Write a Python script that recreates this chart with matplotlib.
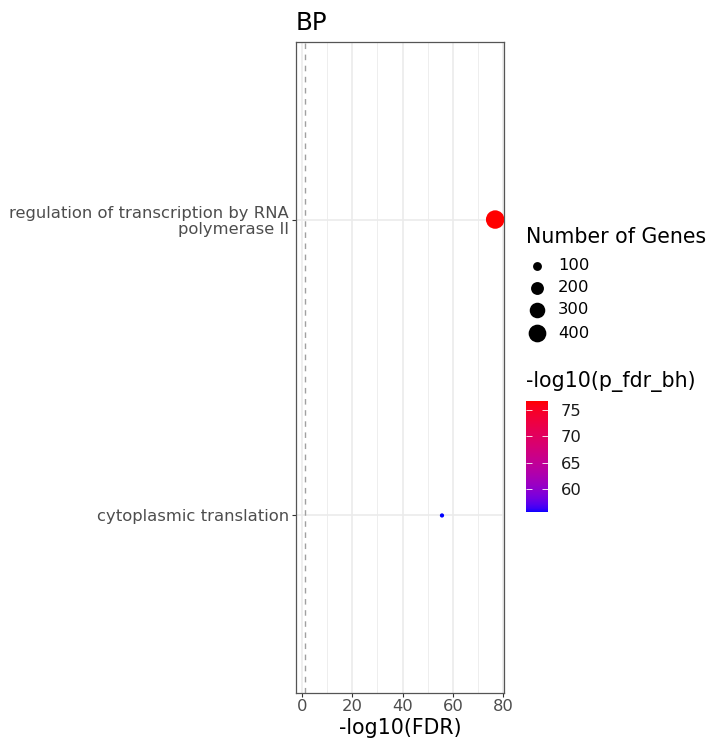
import numpy as np
import matplotlib
matplotlib.use("Agg")
import matplotlib.pyplot as plt
from matplotlib.colors import ListedColormap, Normalize

plt.rcParams["font.family"] = ["DejaVu Sans"]

# GO biological process terms
terms = ["cytoplasmic translation",
         "regulation of transcription by RNA\npolymerase II"]
neg_log10_fdr = [55.6, 76.7]
gene_counts = [60, 440]
size_breaks = [100, 200, 300, 400]
color_ticks = [60, 65, 70, 75]
x_ticks = [0, 20, 40, 60, 80]
fdr_cutoff = -np.log10(0.05)

BASE = 14.8
SMALL = BASE * 0.8


def srgb_to_lab(rgb):
    rgb = np.asarray(rgb, float)
    lin = np.where(rgb <= 0.04045, rgb / 12.92, ((rgb + 0.055) / 1.055) ** 2.4)
    m = np.array([[0.4124, 0.3576, 0.1805],
                  [0.2126, 0.7152, 0.0722],
                  [0.0193, 0.1192, 0.9505]])
    xyz = m @ lin / np.array([0.95047, 1.0, 1.08883])
    f = np.where(xyz > 0.008856, np.cbrt(xyz), 7.787 * xyz + 16 / 116)
    return np.array([116 * f[1] - 16, 500 * (f[0] - f[1]), 200 * (f[1] - f[2])])


def lab_to_srgb(lab):
    L, a, b = lab
    fy = (L + 16) / 116
    fx = fy + a / 500
    fz = fy - b / 200
    f = np.array([fx, fy, fz])
    xyz = np.where(f ** 3 > 0.008856, f ** 3, (f - 16 / 116) / 7.787)
    xyz = xyz * np.array([0.95047, 1.0, 1.08883])
    minv = np.array([[3.2406, -1.5372, -0.4986],
                     [-0.9689, 1.8758, 0.0415],
                     [0.0557, -0.2040, 1.0570]])
    lin = np.clip(minv @ xyz, 0, 1)
    rgb = np.where(lin <= 0.0031308, 12.92 * lin,
                   1.055 * lin ** (1 / 2.4) - 0.055)
    return np.clip(rgb, 0, 1)


lab_lo = srgb_to_lab([0, 0, 1])
lab_hi = srgb_to_lab([1, 0, 0])
cmap = ListedColormap([lab_to_srgb(lab_lo + t * (lab_hi - lab_lo))
                       for t in np.linspace(0, 1, 256)])
norm = Normalize(vmin=min(neg_log10_fdr), vmax=max(neg_log10_fdr))

W, H, DPI = 711, 739, 100
fig = plt.figure(figsize=(W / DPI, H / DPI), dpi=DPI)
ax = fig.add_axes([296 / W, 1 - 693 / H, 208 / W, 651 / H])

gmin, gmax = min(gene_counts), max(gene_counts)


def diameter_pt(v):
    frac = np.clip((np.asarray(v, float) - gmin) / (gmax - gmin), 0, 1)
    size_mm = 1 + 5 * np.sqrt(frac)
    d_px = size_mm * 2.845 + 1.4
    return d_px * 72 / DPI


ypos = np.arange(1, len(terms) + 1)

# grid
for xv in [10, 30, 50, 70]:
    ax.axvline(xv, color="#EBEBEB", lw=0.6, zorder=0)
for xv in x_ticks:
    ax.axvline(xv, color="#EBEBEB", lw=1.2, zorder=0)
for yv in ypos:
    ax.axhline(yv, color="#EBEBEB", lw=1.2, zorder=0)

ax.axvline(fdr_cutoff, color="#A0A0A0", lw=1.0, ls=(0, (4, 4)), zorder=1)

ax.scatter(neg_log10_fdr, ypos, s=diameter_pt(gene_counts) ** 2,
           c=neg_log10_fdr, cmap=cmap, norm=norm, linewidths=0, zorder=3)

ax.set_xlim(-2.3, 80.2)
ax.set_ylim(0.4, 2.6)
ax.set_xticks(x_ticks)
ax.set_yticks(ypos)
ax.set_yticklabels(terms, ha="right", fontsize=SMALL, color="#4D4D4D",
                   linespacing=1.1)
ax.tick_params(axis="x", labelsize=SMALL, labelcolor="#4D4D4D",
               color="#333333", length=3, width=0.8, pad=1)
ax.tick_params(axis="y", color="#333333", length=3, width=0.8, pad=2)
for sp in ax.spines.values():
    sp.set_color("#555555")
    sp.set_linewidth(0.9)
ax.set_xlabel("-log10(FDR)", fontsize=BASE, labelpad=3)
ax.set_title("BP", loc="left", fontsize=BASE * 1.2, pad=9)

# legends drawn on an overlay in pixel units
lax = fig.add_axes([0, 0, 1, 1], zorder=-1)
lax.set_xlim(0, W)
lax.set_ylim(H, 0)
lax.axis("off")

lax.text(526, 237, "Number of Genes", fontsize=BASE, va="center", ha="left")
for b, y in zip(size_breaks, [266, 288, 310, 333]):
    lax.scatter([537], [y], s=diameter_pt(b) ** 2, color="black",
                linewidths=0)
    lax.text(558, y, str(b), fontsize=SMALL, va="center", ha="left")

lax.text(526, 382, "-log10(p_fdr_bh)", fontsize=BASE, va="center", ha="left")

cax = fig.add_axes([526 / W, 1 - 512 / H, 22 / W, 111 / H])
sm = plt.cm.ScalarMappable(norm=norm, cmap=cmap)
cb = fig.colorbar(sm, cax=cax, ticks=color_ticks)
cb.outline.set_visible(False)
cax.tick_params(axis="y", direction="in", color="white", length=4,
                width=0.6, labelsize=SMALL, labelcolor="#1A1A1A", pad=9,
                left=True, right=True)

fig.savefig("out.png", dpi=DPI)
